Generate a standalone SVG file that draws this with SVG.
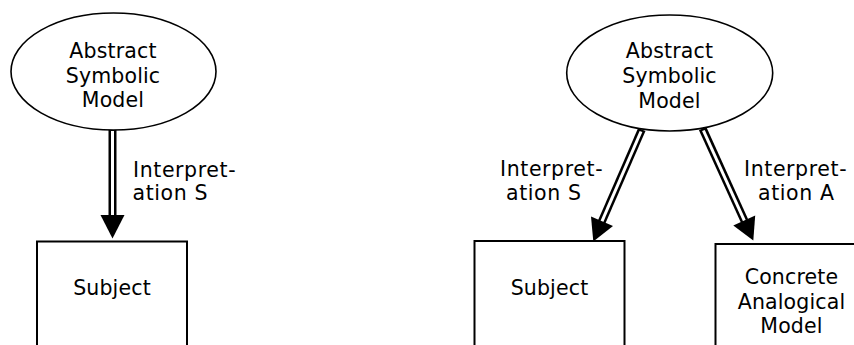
<svg xmlns="http://www.w3.org/2000/svg" width="854" height="345" viewBox="0 0 854 345">
<style>
text{font-family:"DejaVu Sans",Verdana,sans-serif;font-size:20.5px;fill:#000;letter-spacing:0.15px}
.c{text-anchor:middle}
.lbl{letter-spacing:0.6px}
.node{fill:#fff;stroke:#000;stroke-width:2}
.ell{fill:#fff;stroke:#000;stroke-width:1.6}
.outer{stroke:#000;stroke-width:8;fill:none}
.inner{stroke:#fff;stroke-width:3;fill:none}
.head{fill:#000}
</style>
<rect width="854" height="345" fill="#fff"/>
<g id="connectors">
  <g id="edge-left">
    <line class="outer" x1="112.5" y1="129" x2="112.5" y2="217"/>
    <line class="inner" x1="112.5" y1="131" x2="112.5" y2="217"/>
    <polygon class="head" points="100.5,215 124.5,215 112.5,238.5"/>
  </g>
  <g id="edge-right-s">
    <line class="outer" x1="641.8" y1="129.5" x2="601.6" y2="222.2"/>
    <line class="inner" x1="641" y1="131.5" x2="601.6" y2="222.2"/>
    <polygon class="head" points="613,226.1 591,216.5 593.3,241.5"/>
  </g>
  <g id="edge-right-a">
    <line class="outer" x1="702.6" y1="128.5" x2="744.6" y2="221.2"/>
    <line class="inner" x1="703.4" y1="130.5" x2="744.6" y2="221.2"/>
    <polygon class="head" points="733.3,225.4 755.2,215.5 753.3,240.5"/>
  </g>
</g>
<g id="left-model">
  <ellipse class="ell" cx="113.5" cy="71.5" rx="102.5" ry="58.5"/>
  <text class="c" x="113" y="58.3">Abstract</text>
  <text class="c" x="113" y="83">Symbolic</text>
  <text class="c" x="113" y="107">Model</text>
</g>
<g id="left-subject">
  <rect class="node" x="37" y="241.5" width="150" height="120"/>
  <text class="c" x="112" y="295">Subject</text>
</g>
<g id="left-label">
  <text class="lbl" x="133" y="177">Interpret-</text>
  <text class="lbl" x="132.5" y="200">ation S</text>
</g>
<g id="right-model">
  <ellipse class="ell" cx="669.7" cy="73" rx="103" ry="58"/>
  <text class="c" x="669.5" y="58.3">Abstract</text>
  <text class="c" x="669.5" y="83.3">Symbolic</text>
  <text class="c" x="669.5" y="108">Model</text>
</g>
<g id="right-subject">
  <rect class="node" x="474.5" y="241" width="150" height="120"/>
  <text class="c" x="549.5" y="295">Subject</text>
</g>
<g id="concrete">
  <rect class="node" x="715.5" y="244" width="153" height="120"/>
  <text class="c" x="791.5" y="284">Concrete</text>
  <text class="c" x="791.5" y="309">Analogical</text>
  <text class="c" x="791.5" y="333">Model</text>
</g>
<g id="right-labels">
  <text class="lbl" x="500" y="176">Interpret-</text>
  <text class="lbl" x="506" y="200">ation S</text>
  <text class="lbl" x="744" y="176">Interpret-</text>
  <text class="lbl" x="758" y="200">ation A</text>
</g>
</svg>
